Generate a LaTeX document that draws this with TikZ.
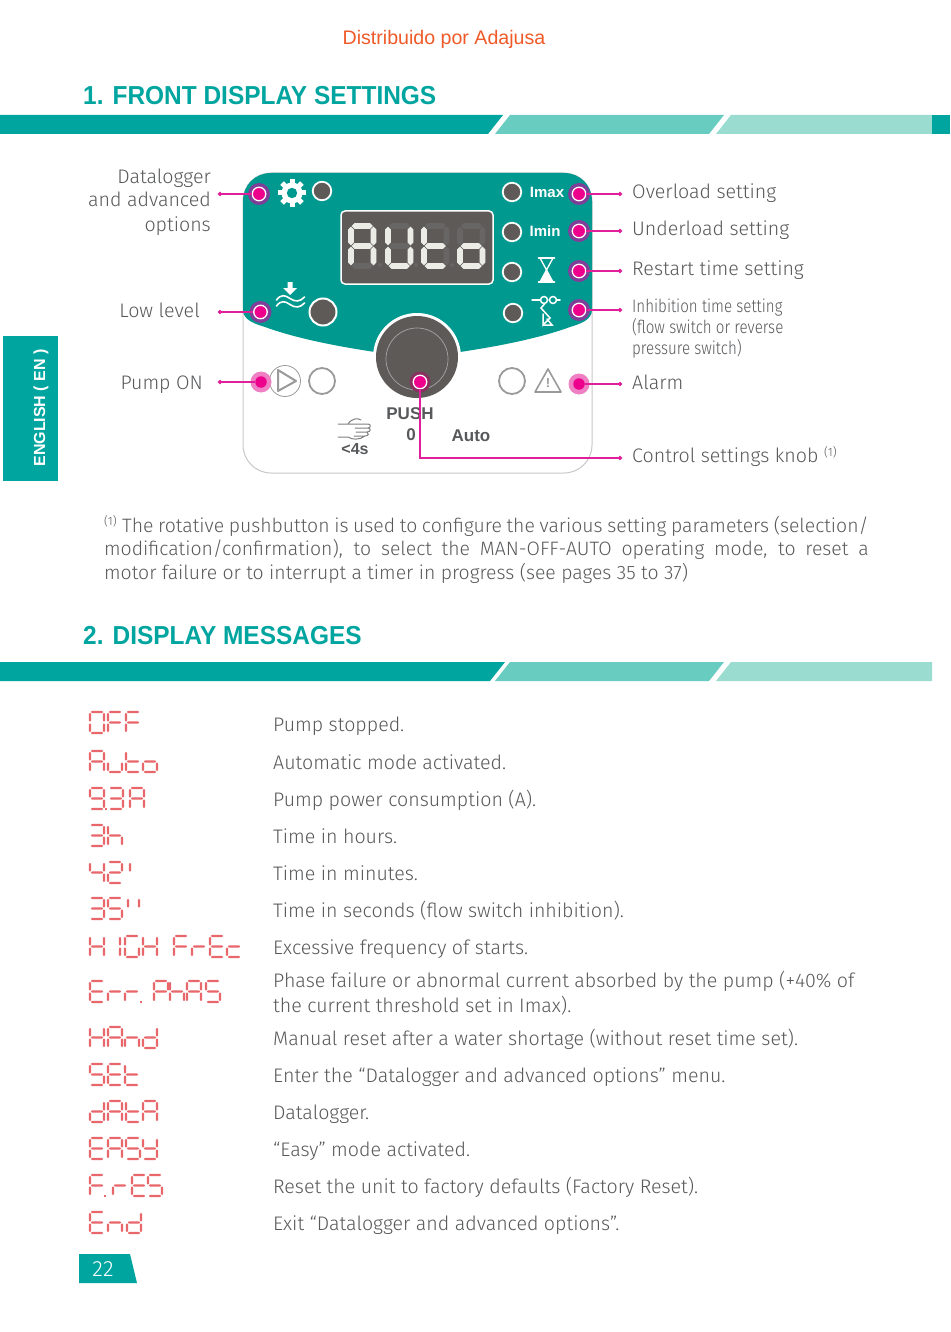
\documentclass[tikz,border=0pt]{standalone}
\usepackage{fontspec}
\usetikzlibrary{arrows.meta}
\setmainfont{Fira Sans Light}
\newfontfamily\bfam{Liberation Sans Bold}
\newfontfamily\hfam[FakeStretch=0.94]{Liberation Sans Bold}
\newfontfamily\condf[FakeStretch=0.84]{Fira Sans Light}
\newfontfamily\regf{Liberation Sans}
\definecolor{teal1}{HTML}{00A5A0}
\definecolor{teal2}{HTML}{68CCC0}
\definecolor{teal3}{HTML}{9ADDD0}
\definecolor{panel}{HTML}{009990}
\definecolor{txt}{HTML}{58595B}
\definecolor{led}{HTML}{E8676B}
\definecolor{dark}{HTML}{5D5A58}
\definecolor{pink}{HTML}{EC008C}
\definecolor{halop}{HTML}{7F3F98}
\definecolor{halol}{HTML}{F080C4}
\definecolor{halok}{HTML}{8A3060}
\definecolor{leader}{HTML}{E0209A}
\definecolor{gr}{HTML}{9A9A9A}
\definecolor{handc}{HTML}{808080}
\definecolor{orangehd}{HTML}{F05A28}
\definecolor{panelline}{HTML}{C8C8C8}
\definecolor{knobline}{HTML}{A5A5A5}
\definecolor{dimseg}{HTML}{686664}
\definecolor{onseg}{HTML}{ECECE6}
\tikzset{
  lab/.style={font=\fontsize{19.6}{24}\selectfont,text=txt,anchor=base west,inner sep=0pt},
  labr/.style={lab,anchor=base east},
  note/.style={font=\fontsize{19.4}{24}\selectfont,text=txt,anchor=base west,inner sep=0pt},
  small/.style={font=\condf\fontsize{18}{22}\selectfont,text=txt,anchor=base west,inner sep=0pt},
  head/.style={font=\hfam\fontsize{26}{30}\selectfont,text=teal1,anchor=base west,inner sep=0pt},
  panellab/.style={font=\bfam\fontsize{17}{20}\selectfont,text=txt,inner sep=0pt},
  white lab/.style={font=\bfam\fontsize{15}{18}\selectfont,text=white,inner sep=0pt},
  leaderl/.style={draw=leader,line width=1.4pt,-{Circle[length=4pt,fill=leader]}},
  pt/.style={circle,fill=pink,draw=white,line width=1.3pt,minimum size=13.5pt,inner sep=0pt},
  smallled/.style={circle,fill=dark,draw=white,line width=1.8pt,minimum size=18.5pt,inner sep=0pt},
  bigled/.style={circle,fill=dark,draw=white,line width=2pt,minimum size=27pt,inner sep=0pt},
  ringled/.style={circle,draw=gr,line width=1.8pt,minimum size=26pt,inner sep=0pt},
  iconw/.style={draw=white,line width=1.6pt,line cap=round},
  icong/.style={draw=gr,line width=1.6pt,line join=round},
}
% seven-segment glyphs
\def\st{1.2}\def\sw{14}\def\sh{21}\def\sg{0.9}
\newcommand\segH[3]{\fill ({#1},{#3}) -- ({#1+\st},{#3-\st}) -- ({#2-\st},{#3-\st}) -- ({#2},{#3}) -- ({#2-\st},{#3+\st}) -- ({#1+\st},{#3+\st}) -- cycle;}
\newcommand\segV[3]{\fill ({#1},{#2}) -- ({#1+\st},{#2+\st}) -- ({#1+\st},{#3-\st}) -- ({#1},{#3}) -- ({#1-\st},{#3-\st}) -- ({#1-\st},{#2+\st}) -- cycle;}
\newcommand\onesegment[3]{%
  \if a#3\segH{#1+\sg}{#1+\sw-\sg}{#2}\fi
  \if g#3\segH{#1+\sg}{#1+\sw-\sg}{#2+\sh/2}\fi
  \if d#3\segH{#1+\sg}{#1+\sw-\sg}{#2+\sh}\fi
  \if f#3\segV{#1}{#2+\sg}{#2+\sh/2-\sg}\fi
  \if e#3\segV{#1}{#2+\sh/2+\sg}{#2+\sh-\sg}\fi
  \if b#3\segV{#1+\sw}{#2+\sg}{#2+\sh/2-\sg}\fi
  \if c#3\segV{#1+\sw}{#2+\sh/2+\sg}{#2+\sh-\sg}\fi
  \if p#3\fill ({#1-1},{#2+\sh-1.2}) rectangle ({#1+1.2},{#2+\sh+1.2});\fi
}
\newcommand\defgl[2]{\expandafter\def\csname gl#1\endcsname{#2}}
\defgl{O}{a,b,c,d,e,f}\defgl{F}{a,f,g,e}\defgl{A}{a,b,c,e,f,g}\defgl{u}{c,d,e}\defgl{t}{f,e,g,d}
\defgl{o}{c,d,e,g}\defgl{9}{a,b,c,d,f,g}\defgl{3}{a,b,c,d,g}\defgl{h}{f,e,g,c}\defgl{4}{f,g,b,c}
\defgl{2}{a,b,g,e,d}\defgl{5}{a,f,g,c,d}\defgl{H}{b,c,e,f,g}\defgl{I}{b,c}\defgl{G}{a,f,e,d,c}
\defgl{r}{e,g}\defgl{E}{a,f,g,e,d}\defgl{c}{g,e,d}\defgl{P}{a,b,e,f,g}\defgl{S}{a,f,g,c,d}
\defgl{n}{e,g,c}\defgl{d}{b,c,d,e,g}\defgl{Y}{f,b,g,c,d}\defgl{q}{f}\defgl{.}{p}\defgl{U}{b,c,d,e,f}
\defgl{8}{a,b,c,d,e,f,g}
\newcommand\ledglyph[3]{\edef\curgl{\csname gl#3\endcsname}\foreach \sname in \curgl {\edef\tmpseg{\noexpand\onesegment{#1}{#2}{\sname}}\tmpseg}}
\newcommand\ledword[2]{\begin{scope}[fill=led]\foreach \xp/\gp in {#2}{\ledglyph{\xp}{#1}{\gp}}\end{scope}}
\begin{document}
\begin{tikzpicture}[x=1pt,y=-1pt]
\useasboundingbox (0,0) rectangle (950,1332);
\fill[white] (0,0) rectangle (950,1332);
% header
\node[font=\regf\fontsize{19.6}{24}\selectfont,text=orangehd,inner sep=0pt,anchor=base] (dist) at (444,44.5) {Distribuido por Adajusa};
\node[head] (h1) at (83,105) {1. FRONT DISPLAY SETTINGS};
\node[head] (h2) at (83,644) {2. DISPLAY MESSAGES};
% bars
\fill[teal1] (0,115) -- (503,115) -- (488,134) -- (0,134) -- cycle;
\fill[teal2] (510,115) -- (724,115) -- (709,134) -- (495,134) -- cycle;
\fill[teal3] (731,115) -- (932,115) -- (932,134) -- (716,134) -- cycle;
\fill[teal1] (932,115) rectangle (950,134);
\fill[teal1] (0,662) -- (505,662) -- (490,681) -- (0,681) -- cycle;
\fill[teal2] (510,662) -- (724,662) -- (709,681) -- (495,681) -- cycle;
\fill[teal3] (731,662) -- (932,662) -- (932,681) -- (716,681) -- cycle;
% side tab
\fill[teal1] (3,336) rectangle (58,481);
\node[font=\bfam\fontsize{16}{20}\selectfont,text=white,rotate=90,inner sep=0pt] (lang) at (41,408) {ENGLISH ( EN )};
% page number
\fill[teal1] (79,1254) -- (130,1254) -- (137,1283) -- (79,1283) -- cycle;
\node[font=\fontsize{22}{26}\selectfont,text=white,inner sep=0pt] (pg) at (103,1269) {22};
% panel
\draw[draw=panelline,line width=1pt,rounded corners=28pt] (243,173) rectangle (592,473);
\fill[panel] (243,201) .. controls (243,185) and (255,173) .. (271,173) -- (564,173) .. controls (580,173) and (592,185) .. (592,201) -- (592,310) .. controls (592,320) and (580,324) .. (570,327) .. controls (540,338) and (500,346) .. (460,352) -- (375,352) .. controls (335,346) and (295,338) .. (265,327) .. controls (255,324) and (243,320) .. (243,310) -- cycle;
% display
\draw[fill=dark,draw=white,line width=1.5pt,rounded corners=4pt] (341,211) rectangle (493,284);
\begingroup
\def\st{2.8}\def\sw{22.5}\def\sh{40}\def\sg{0.7}
\begin{scope}[fill=dimseg]
\foreach \xp in {351,388,424,460}{\ledglyph{\xp}{226}{8}}
\fill (380,265) circle (2) (416,265) circle (2) (452,265) circle (2);
\end{scope}
\begin{scope}[fill=onseg]
\ledglyph{351}{226}{A}\ledglyph{388}{226}{U}\ledglyph{424}{226}{t}\ledglyph{460}{226}{o}
\end{scope}
\endgroup
% gear
\fill[white] (292,193) circle (10.5);
\foreach \a in {0,45,...,315}{\draw[white,line width=5pt] (292,193) ++(\a:8) -- ++(\a:6);}
\fill[panel] (292,193) circle (5.2);
% LEDs
\node[smallled] (ledset) at (322,191) {};
\node[bigled] (ledlow) at (323,312) {};
\node[smallled] (ledmax) at (512,192) {};
\node[smallled] (ledmin) at (512,232) {};
\node[smallled] (ledres) at (512,272) {};
\node[smallled] (ledinh) at (513,313) {};
\node[white lab] (imax) at (547,192) {Imax};
\node[white lab] (imin) at (545,231) {Imin};
% low-level icon
\fill[white] (287.5,282) rectangle (292.5,288) (283,288) -- (297,288) -- (290,295) -- cycle;
\draw[iconw] (276.5,300) .. controls (281,294) and (285,295) .. (290,298.5) .. controls (295,302) and (300,302) .. (304.5,297);
\draw[iconw] (276.5,306) .. controls (281,300) and (285,301) .. (290,304.5) .. controls (295,308) and (300,308) .. (304.5,303);
% hourglass
\draw[iconw,line width=1.5pt] (538.5,258) -- (554.5,258) (538.5,282) -- (554.5,282);
\draw[iconw,line width=1.3pt] (540,258) -- (553,282) (553,258) -- (540,282);
\fill[white] (546.5,270) -- (553,282) -- (540,282) -- cycle;
% inhibition icon
\draw[iconw,line width=1.5pt] (532,300) -- (540.5,300) (556.5,300) -- (560,300);
\draw[iconw,line width=1.5pt] (544,300) circle (3.5) (553,300) circle (3.5);
\draw[iconw,line width=1.5pt] (544.5,304) -- (541,308) -- (550,318) -- (543,325) -- (543,314);
\draw[iconw,line width=1.5pt] (543,325) -- (552,325) -- (547,319);
% knob
\fill[white] (417,357) circle (44);
\fill[dark] (417,357) circle (41);
\draw[knobline,line width=.7pt] (417,359) circle (31);
% lower row
\draw[gr,line width=.8pt] (285,381) circle (15.5);
\draw[icong,line width=2pt] (278,370) -- (278,391) -- (296,381) -- cycle;
\node[ringled] (ledrun) at (322,381) {};
\node[ringled] (ledalarm) at (512,381) {};
\draw[icong] (548,369) -- (561,392) -- (535,392) -- cycle;
\node[font=\bfam\fontsize{13}{14}\selectfont,text=gr,inner sep=0pt] (excl) at (548,383) {!};
% panel texts
\node[panellab] (push) at (410,414) {PUSH};
\node[panellab] (zero) at (411,435) {0};
\node[panellab] (autot) at (471,436) {Auto};
\node[panellab,font=\bfam\fontsize{16}{20}\selectfont] (lt4s) at (355,449) {<4s};
% hand icon
\draw[handc,line width=1pt,line cap=round] (338,424) -- (348,424) .. controls (352,418) and (358,418) .. (361,420) (348,424) -- (368,424) .. controls (371,424) and (371,428) .. (368,428) -- (355,428) (368,428) .. controls (371,428) and (371,432) .. (367,432) -- (356,432) (367,432) .. controls (369,433) and (369,436) .. (365,436) -- (354,436) (365,436) .. controls (360,440) and (352,440) .. (348,437) -- (338,437);
% callouts
\fill[halop] (259,194) circle (11);
\fill[halop] (260.5,312) circle (11);
\fill[halol] (261,382) circle (10.5);
\fill[halop] (579,194) circle (11);
\fill[halop] (579,231) circle (11);
\fill[halop] (579,271) circle (11);
\fill[halop] (579,310) circle (11);
\fill[halol] (579,384) circle (10.5);
\fill[halok] (420,382) circle (10.5);
\node[pt] (cset) at (259,194) {};
\node[pt] (clow) at (260.5,312) {};
\node[pt,draw=none,minimum size=11.5pt] (crun) at (261,382) {};
\node[pt] (cmax) at (579,194) {};
\node[pt] (cmin) at (579,231) {};
\node[pt] (cres) at (579,271) {};
\node[pt] (cinh) at (579,310) {};
\node[pt,draw=none,minimum size=11.5pt] (calm) at (579,384) {};
\node[pt] (cknob) at (420,382) {};
\coordinate (eset) at (218,194);
\coordinate (elow) at (218,312);
\coordinate (erun) at (218,382);
\coordinate (emax) at (622,194);
\coordinate (emin) at (622,231);
\coordinate (eres) at (622,271);
\coordinate (einh) at (622,310);
\coordinate (ealm) at (622,384);
\coordinate (eknob) at (622,458);
\draw[leaderl] (cset) -- (eset);
\draw[leaderl] (clow) -- (elow);
\draw[leaderl] (crun) -- (erun);
\draw[leaderl] (cmax) -- (emax);
\draw[leaderl] (cmin) -- (emin);
\draw[leaderl] (cres) -- (eres);
\draw[leaderl] (cinh) -- (einh);
\draw[leaderl] (calm) -- (ealm);
\draw[leaderl] (cknob) |- (eknob);
% labels left
\node[labr] (l1) at (211,184) {Datalogger};
\node[labr] (l2) at (211,207) {and advanced};
\node[labr] (l3) at (211,232) {options};
\node[labr] (l4) at (200,317) {Low level};
\node[labr] (l5) at (203,389) {Pump ON};
% labels right
\node[lab] (r1) at (632,199) {Overload setting};
\node[lab] (r2) at (632,236) {Underload setting};
\node[lab] (r3) at (632,276) {Restart time setting};
\node[small] (r4) at (632,312.5) {Inhibition time setting};
\node[small] (r5) at (632,333.5) {(flow switch or reverse};
\node[small] (r6) at (632,354.5) {pressure switch)};
\node[lab] (r7) at (632,389) {Alarm};
\node[lab] (r8) at (632,462) {Control settings knob};
\node[font=\fontsize{12}{14}\selectfont,text=txt,inner sep=0pt,anchor=base west] (r8s) at (824,456) {(1)};
% note
\node[font=\fontsize{12}{14}\selectfont,text=txt,inner sep=0pt,anchor=base west] (ns) at (104,525) {(1)};
\node[note] (n1) at (122,532) {\makebox[746.5pt][s]{The rotative pushbutton is used to configure the various setting parameters (selection/}};
\node[note] (n2) at (104,555.5) {\makebox[764.5pt][s]{modification/confirmation), to select the MAN-OFF-AUTO operating mode, to reset a}};
\node[note] (n3) at (104,579.5) {motor failure or to interrupt a timer in progress (see pages 35 to 37)};
% table texts
\node[lab] (t1) at (273,731) {Pump stopped.};
\node[lab] (t2) at (273,769) {Automatic mode activated.};
\node[lab] (t3) at (273,806) {Pump power consumption (A).};
\node[lab] (t4) at (273,843) {Time in hours.};
\node[lab] (t5) at (273,880) {Time in minutes.};
\node[lab] (t6) at (273,917) {Time in seconds (flow switch inhibition).};
\node[lab] (t7) at (273,954) {Excessive frequency of starts.};
\node[lab] (t8) at (273,987) {Phase failure or abnormal current absorbed by the pump (+40\% of};
\node[lab] (t8b) at (273,1012) {the current threshold set in Imax).};
\node[lab] (t9) at (273,1045) {Manual reset after a water shortage (without reset time set).};
\node[lab] (t10) at (273,1082) {Enter the “Datalogger and advanced options” menu.};
\node[lab] (t11) at (273,1119) {Datalogger.};
\node[lab] (t12) at (273,1156) {“Easy” mode activated.};
\node[lab] (t13) at (273,1193) {Reset the unit to factory defaults (Factory Reset).};
\node[lab] (t14) at (273,1230) {Exit “Datalogger and advanced options”.};
% LED words
\ledword{712}{90/O,108/F,126/F}
\ledword{751}{90/A,108/u,126/t,143/o}
\ledword{788}{90/9,106/.,109/3,130/A}
\ledword{825}{90/3,108/h}
\ledword{862}{90/4,108/2,130/q}
\ledword{898}{90/3,108/5,128/q,139/q}
\ledword{936}{90/H,106/I,125/G,143/H,174/F,192/r,210/E,227/c}
\ledword{981}{90/E,108/r,125/r,141/.,154/P,170/h,187/A,206/S}
\ledword{1027}{90/H,108/A,125/n,143/d}
\ledword{1064}{90/S,108/E,125/t}
\ledword{1101}{90/d,108/A,126/t,143/A}
\ledword{1138}{90/E,108/A,126/S,143/Y}
\ledword{1175}{90/F,105/.,113/r,132/E,148/S}
\ledword{1212}{90/E,108/n,127/d}
\end{tikzpicture}
\end{document}
